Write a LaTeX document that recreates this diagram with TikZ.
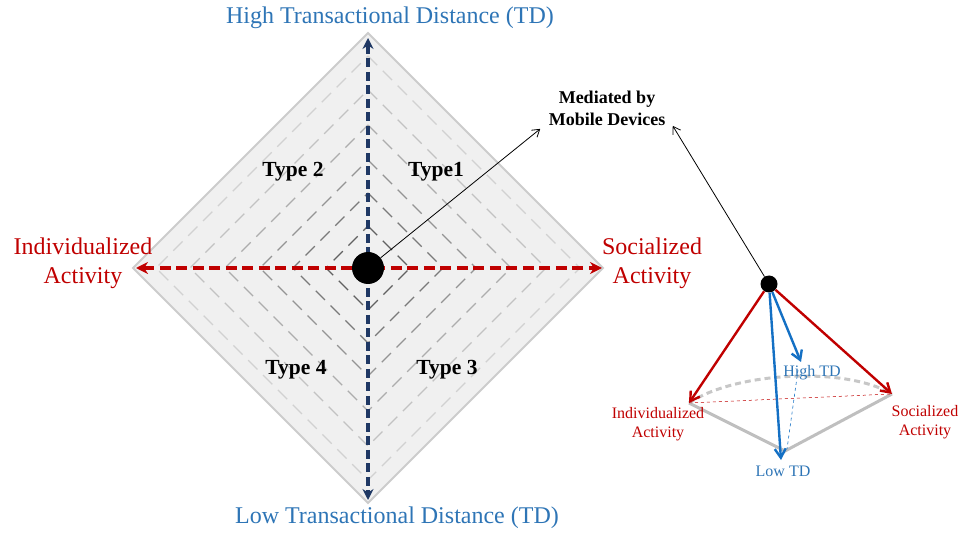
\documentclass[tikz,border=0pt]{standalone}
\usepackage{fontspec}
\setmainfont{Liberation Serif}
\usetikzlibrary{calc,arrows.meta,positioning}
\definecolor{tdblue}{RGB}{46,117,182}
\definecolor{edgeblue}{RGB}{20,112,196}
\definecolor{actred}{RGB}{192,0,0}
\definecolor{axisnavy}{RGB}{31,56,100}

\begin{document}
\begin{tikzpicture}[x=1pt,y=-1pt,
    biglab/.style={align=center,font=\fontsize{24}{29}\selectfont},
    typelab/.style={font=\fontsize{21.5}{25}\selectfont\bfseries},
    smalllab/.style={align=center,font=\fontsize{16}{18.5}\selectfont},
    ring/.style={dash pattern=on 13pt off 8pt,line width=1.4pt},
    pointer/.style={line width=0.8pt,-{Straight Barb[length=7pt,width=9pt]}},
    edge/.style={line width=2.4pt,-{Straight Barb[length=9pt,width=11pt]}}]
    \useasboundingbox (0,0) rectangle (961,534);

    \coordinate (o) at (368,268);
    \coordinate (N) at ($(o)+(0,-235)$);
    \coordinate (E) at ($(o)+(235,0)$);
    \coordinate (S) at ($(o)+(0,235)$);
    \coordinate (W) at ($(o)+(-235,0)$);

    \filldraw[fill=black!6,draw=black!20,line width=2pt] (N) -- (E) -- (S) -- (W) -- cycle;
    \foreach \r/\g in {212/18,178/24,143/32,108/42,75/52,42/62}
      \draw[ring,draw=black!\g] ($(o)+(0,-\r)$) -- ($(o)+(\r,0)$) -- ($(o)+(0,\r)$) -- ($(o)+(-\r,0)$) -- cycle;

    \draw[axisnavy,line width=3.6pt,dash pattern=on 9pt off 4.5pt,
      {Stealth[length=11pt,width=11pt]}-{Stealth[length=11pt,width=11pt]},shorten <=5pt,shorten >=3pt] (N) -- (S);
    \draw[actred,line width=3.8pt,dash pattern=on 11pt off 5.5pt,
      {Stealth[length=12pt,width=12pt]}-{Stealth[length=12pt,width=12pt]},shorten <=3pt,shorten >=1pt] (W) -- (E);
    \node[circle,fill=black,minimum size=32pt,inner sep=0] (hub) at (o) {};

    \node[biglab,text=tdblue] (hightd) at (390,18) {High Transactional Distance (TD)};
    \node[biglab,text=tdblue] (lowtd) at (397,518) {Low Transactional Distance (TD)};
    \node[biglab,text=actred] (indiv) at (83,263) {Individualized\\Activity};
    \node[biglab,text=actred] (social) at (652,263) {Socialized\\Activity};

    \node[typelab] (type2) at (293,172) {Type 2};
    \node[typelab] (type1) at (436,172) {Type1};
    \node[typelab] (type4) at (296,370) {Type 4};
    \node[typelab] (type3) at (447,370) {Type 3};

    \node[align=center,font=\fontsize{18}{22}\selectfont\bfseries] (mobile) at (607,108) {Mediated by\\Mobile Devices};

    \node[circle,fill=black,minimum size=17pt,inner sep=0] (apex) at (769,284) {};
    \coordinate (pind) at (689,403);
    \coordinate (psoc) at (892,394);
    \coordinate (plow) at (781,460);
    \coordinate (phigh) at (801,362);
    \coordinate (pbase) at (785,451);

    \draw[black!25,line width=3pt] (pind) -- (pbase) -- (psoc);
    \draw[black!22,line width=3pt,dash pattern=on 6pt off 4pt] (pind) .. controls (735,372) and (845,366) .. (psoc);
    \draw[actred,line width=0.5pt,dashed] (pind) -- (psoc);
    \draw[edgeblue,line width=0.6pt,dashed] (798,370) -- (787,449);

    \draw[edge,actred] (apex) -- (pind);
    \draw[edge,actred] (apex) -- (psoc);
    \draw[edge,edgeblue] (apex) -- (plow);
    \draw[edge,edgeblue] (apex) -- (phigh);

    \node[smalllab,text=tdblue] (highlab) at (812,373) {High TD};
    \node[smalllab,text=tdblue] (lowlab) at (783,471) {Low TD};
    \node[smalllab,text=actred] (indlab) at (658,424) {Individualized\\Activity};
    \node[smalllab,text=actred] (soclab) at (925,422) {Socialized\\Activity};

    \draw[pointer] (hub) -- ($(mobile.south west)+(-5,0)$);
    \draw[pointer] (apex) -- ($(mobile.south east)+(4,-3)$);
  \end{tikzpicture}
\end{document}
